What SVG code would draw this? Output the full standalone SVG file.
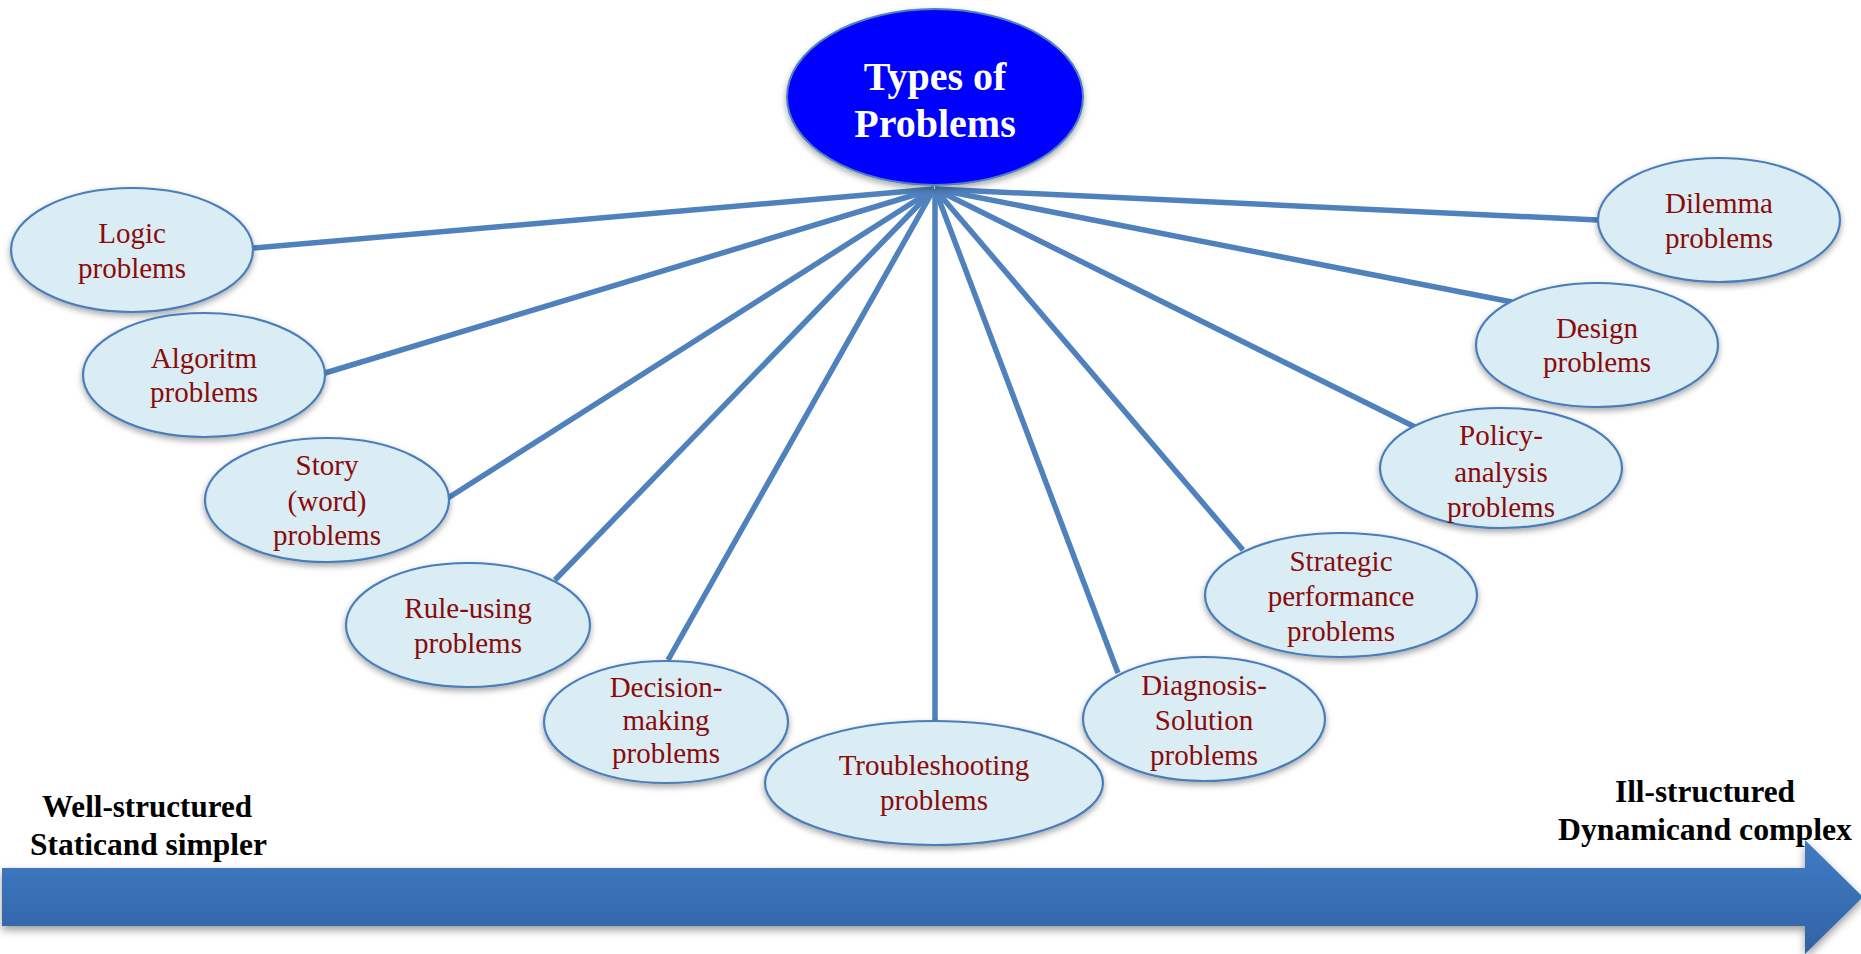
<svg xmlns="http://www.w3.org/2000/svg" width="1861" height="954" viewBox="0 0 1861 954">
  <defs>
    <filter id="shadow" x="-20%" y="-20%" width="140%" height="150%">
      <feDropShadow dx="0" dy="3" stdDeviation="3" flood-color="#000" flood-opacity="0.35"/>
    </filter>
    <filter id="arrowShadow" x="-5%" y="-30%" width="110%" height="160%">
      <feDropShadow dx="0" dy="4" stdDeviation="4" flood-color="#000" flood-opacity="0.4"/>
    </filter>
    <linearGradient id="arrowFill" x1="0" y1="0" x2="0" y2="1">
      <stop offset="0" stop-color="#3f7cc5"/>
      <stop offset="1" stop-color="#3262a4"/>
    </linearGradient>
    <style>
      .node ellipse { fill: #daedf4; stroke: #4a7ebb; stroke-width: 2.2; filter: url(#shadow); }
      .node text { font-family: "Liberation Serif", "Times New Roman", serif; font-size: 29px; fill: #8b0a0a; text-anchor: middle; }
      .link { stroke: #4f81bd; stroke-width: 5.5; stroke-linecap: butt; fill: none; }
      .title { font-family: "Liberation Serif", "Times New Roman", serif; font-size: 40px; font-weight: bold; fill: #ffffff; text-anchor: middle; }
      .axis { font-family: "Liberation Serif", "Times New Roman", serif; font-size: 32px; font-weight: bold; fill: #000000; }
    </style>
  </defs>

  <rect width="1861" height="954" fill="#ffffff"/>

  <!-- scale arrow along the bottom -->
  <g id="scale-arrow">
    <path d="M2,868 L1805,868 L1805,840 L1863,897 L1805,954 L1805,926 L2,926 Z" fill="url(#arrowFill)" filter="url(#arrowShadow)"/>
  </g>

  <!-- spokes from the hub to every problem type -->
  <g id="connectors">
    <line class="link" x1="934" y1="189" x2="253" y2="248"/>
    <line class="link" x1="934" y1="189" x2="325" y2="373"/>
    <line class="link" x1="934" y1="189" x2="448" y2="498"/>
    <line class="link" x1="934" y1="189" x2="555" y2="580"/>
    <line class="link" x1="934" y1="189" x2="668" y2="660"/>
    <line class="link" x1="935" y1="189" x2="935" y2="721"/>
    <line class="link" x1="935" y1="189" x2="1118" y2="673"/>
    <line class="link" x1="935" y1="189" x2="1243" y2="550"/>
    <line class="link" x1="935" y1="189" x2="1415" y2="427"/>
    <line class="link" x1="935" y1="189" x2="1512" y2="302"/>
    <line class="link" x1="935" y1="189" x2="1598" y2="220"/>
  </g>

  <g id="types-of-problems">
    <ellipse cx="935" cy="97" rx="148" ry="88" fill="#0000ff" stroke="#4f81bd" stroke-width="2" filter="url(#shadow)"/>
    <text class="title" x="935" y="90">Types of</text>
    <text class="title" x="935" y="137">Problems</text>
  </g>

  <g id="logic" class="node">
    <ellipse cx="132" cy="250" rx="121" ry="62"/>
    <text x="132" y="243">Logic</text>
    <text x="132" y="278">problems</text>
  </g>

  <g id="algoritm" class="node">
    <ellipse cx="204" cy="375" rx="121" ry="62"/>
    <text x="204" y="368">Algoritm</text>
    <text x="204" y="402">problems</text>
  </g>

  <g id="story" class="node">
    <ellipse cx="327" cy="500" rx="122" ry="62"/>
    <text x="327" y="475">Story</text>
    <text x="327" y="511">(word)</text>
    <text x="327" y="545">problems</text>
  </g>

  <g id="rule-using" class="node">
    <ellipse cx="468" cy="625" rx="122" ry="62"/>
    <text x="468" y="618">Rule-using</text>
    <text x="468" y="653">problems</text>
  </g>

  <g id="decision-making" class="node">
    <ellipse cx="666" cy="722" rx="122" ry="61"/>
    <text x="666" y="697">Decision-</text>
    <text x="666" y="730">making</text>
    <text x="666" y="763">problems</text>
  </g>

  <g id="troubleshooting" class="node">
    <ellipse cx="934" cy="783" rx="169" ry="62"/>
    <text x="934" y="775">Troubleshooting</text>
    <text x="934" y="810">problems</text>
  </g>

  <g id="diagnosis-solution" class="node">
    <ellipse cx="1204" cy="719" rx="121" ry="62"/>
    <text x="1204" y="695">Diagnosis-</text>
    <text x="1204" y="730">Solution</text>
    <text x="1204" y="765">problems</text>
  </g>

  <g id="strategic-performance" class="node">
    <ellipse cx="1341" cy="595" rx="136" ry="62"/>
    <text x="1341" y="571">Strategic</text>
    <text x="1341" y="606">performance</text>
    <text x="1341" y="641">problems</text>
  </g>

  <g id="policy-analysis" class="node">
    <ellipse cx="1501" cy="468" rx="121" ry="60"/>
    <text x="1501" y="445">Policy-</text>
    <text x="1501" y="482">analysis</text>
    <text x="1501" y="517">problems</text>
  </g>

  <g id="design" class="node">
    <ellipse cx="1597" cy="345" rx="121" ry="62"/>
    <text x="1597" y="338">Design</text>
    <text x="1597" y="372">problems</text>
  </g>

  <g id="dilemma" class="node">
    <ellipse cx="1719" cy="220" rx="121" ry="62"/>
    <text x="1719" y="213">Dilemma</text>
    <text x="1719" y="248">problems</text>
  </g>

  <!-- end labels of the scale -->
  <g id="scale-labels">
    <text class="axis" x="42" y="817" textLength="210" lengthAdjust="spacingAndGlyphs">Well-structured</text>
    <text class="axis" x="30" y="855" textLength="237" lengthAdjust="spacingAndGlyphs">Staticand simpler</text>
    <text class="axis" x="1615" y="802" textLength="180" lengthAdjust="spacingAndGlyphs">Ill-structured</text>
    <text class="axis" x="1558" y="840" textLength="294" lengthAdjust="spacingAndGlyphs">Dynamicand complex</text>
  </g>
</svg>
